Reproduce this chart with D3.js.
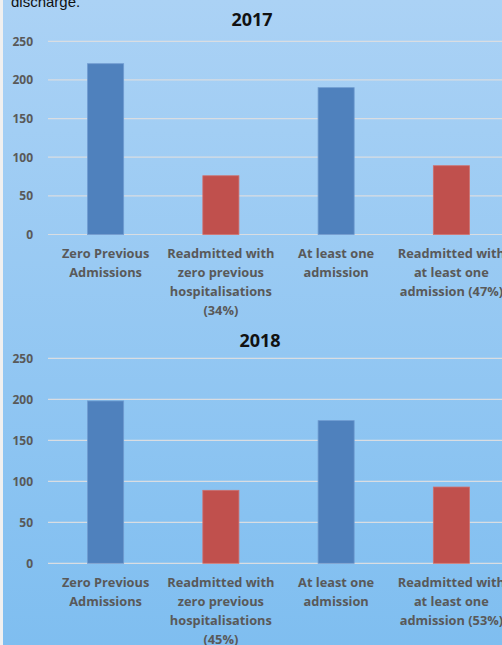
<!DOCTYPE html>
<html><head><meta charset="utf-8">
<script src="https://cdn.jsdelivr.net/npm/d3@7"></script>
<style>
html,body{margin:0;padding:0;background:#f0f0f0;}
svg{display:block;}
</style></head>
<body>
<svg id="c" width="502" height="645"></svg>
<script>
const categories2017 = ["Zero Previous|Admissions", "Readmitted with|zero previous|hospitalisations|(34%)", "At least one|admission", "Readmitted with|at least one|admission (47%)"];
const categories2018 = ["Zero Previous|Admissions", "Readmitted with|zero previous|hospitalisations|(45%)", "At least one|admission", "Readmitted with|at least one|admission (53%)"];
const values2017 = [221, 76, 190, 89];
const values2018 = [198, 89, 174, 93];
const barColors = ["#4f81bd", "#c0504d", "#4f81bd", "#c0504d"];
const yTicks = [0, 50, 100, 150, 200, 250];

const svg = d3.select("#c");
const defs = svg.append("defs");
const grad = defs.append("linearGradient").attr("id","bg").attr("x1",0).attr("y1",0).attr("x2",0).attr("y2",1);
grad.append("stop").attr("offset","0%").attr("stop-color","#abd2f5");
grad.append("stop").attr("offset","100%").attr("stop-color","#7fbef0");
svg.append("rect").attr("x",3).attr("y",0).attr("width",499).attr("height",645).attr("fill","url(#bg)");

svg.append("text").attr("x",11).attr("y",7).text("discharge.")
  .attr("font-family","Liberation Sans, Arial, sans-serif").attr("font-size",15).attr("fill","#111");

const FONT = "'Open Sans', Lato, sans-serif";

function drawChart(cfg){
  const {title, values, cats, y0, y250, titleX, titleY, labelY} = cfg;
  const x = d3.scaleBand().domain(cats).range([48, 509]).paddingInner(0.687).paddingOuter(0.3435);
  const y = d3.scaleLinear().domain([0, 250]).range([y0, y250]);
  const g = svg.append("g");
  // gridlines
  g.selectAll("line.grid").data(yTicks).join("line")
    .attr("x1", 48).attr("x2", 509)
    .attr("y1", d => y(d)).attr("y2", d => y(d))
    .attr("stroke", "#d9dde2").attr("stroke-width", 1.2);
  // y axis labels
  const ax = d3.axisLeft(y).tickValues(yTicks).tickSize(0).tickPadding(15);
  const ag = g.append("g").attr("transform", "translate(48,0)").call(ax);
  ag.select(".domain").remove();
  ag.selectAll("text").attr("font-family",FONT).attr("font-weight","bold")
    .attr("font-size", 12).attr("fill","#595959");
  // bars
  g.selectAll("rect.bar").data(values).join("rect")
    .attr("x", (d,i) => x(cats[i])).attr("width", x.bandwidth())
    .attr("y", d => y(d)).attr("height", d => y(0) - y(d))
    .attr("fill", (d,i) => barColors[i])
    .attr("stroke", (d,i) => i%2 ? "#cf6f6c" : "#6f9bd0").attr("stroke-width", 0.8);
  // x labels
  cats.forEach((c, i) => {
    const t = g.append("text").attr("text-anchor","middle")
      .attr("font-family",FONT).attr("font-weight","bold")
      .attr("font-size", 12.8).attr("fill","#595959");
    c.split("|").forEach((line, j) => {
      t.append("tspan").attr("x", x(c) + x.bandwidth()/2).attr("y", labelY + j*19).text(line);
    });
  });
  // title
  g.append("text").attr("x", titleX).attr("y", titleY).attr("text-anchor","middle")
    .attr("font-family",FONT).attr("font-weight","bold")
    .attr("font-size", 18).attr("fill","#111").text(title);
}

drawChart({title:"2017", values:values2017, cats:categories2017, y0:234.5, y250:41.3, titleX:252, titleY:26, labelY:258});
drawChart({title:"2018", values:values2018, cats:categories2018, y0:563.3, y250:358.3, titleX:260, titleY:347, labelY:587});
</script>
</body></html>
